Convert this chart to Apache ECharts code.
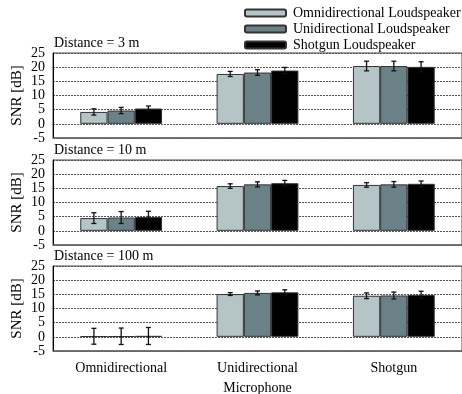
<!DOCTYPE html>
<html><head><meta charset="utf-8">
<script src="https://cdn.jsdelivr.net/npm/echarts@6/dist/echarts.min.js"></script>
<style>html,body{margin:0;padding:0;background:#fff}#c{width:462px;height:394px}</style>
</head><body><div id="c"></div>
<script>
const categories = ['Omnidirectional', 'Unidirectional', 'Shotgun'];
const seriesNames = ['Omnidirectional Loudspeaker', 'Unidirectional Loudspeaker', 'Shotgun Loudspeaker'];
const panelTitles = ['Distance = 3 m', 'Distance = 10 m', 'Distance = 100 m'];
const yTicks = [-5, 0, 5, 10, 15, 20, 25];
// values[panel][loudspeaker][microphone]
const snr3m = [[4.2, 17.6, 20.4], [4.7, 18.1, 20.4], [5.4, 18.8, 20.1]];
const err3m = [[1.1, 0.9, 1.7], [1.1, 1.0, 1.7], [0.9, 1.1, 1.8]];
const snr10m = [[4.5, 15.8, 16.2], [4.7, 16.4, 16.4], [4.9, 16.8, 16.6]];
const err10m = [[1.9, 0.8, 0.8], [2.1, 0.9, 1.0], [2.0, 1.0, 1.0]];
const snr100m = [[0.2, 15.1, 14.5], [0.2, 15.5, 14.6], [0.3, 15.7, 14.8]];
const err100m = [[2.8, 0.5, 1.0], [2.9, 0.7, 1.2], [3.0, 0.9, 1.3]];

const panels = [[snr3m, err3m], [snr10m, err10m], [snr100m, err100m]];
const colors = ['#b5c4c6', '#6a8187', '#000000'];
const FONT = 'Liberation Serif';
const gridTops = [53, 160, 266];
const gridH = 85;
const catGap = 0.4;

const grids = [], xAxes = [], yAxes = [], series = [], titles = [];
panels.forEach((p, pi) => {
  grids.push({left: 53, width: 409, top: gridTops[pi], height: gridH, show: true, borderColor: '#444', borderWidth: 1,
    containLabel: false, outerBoundsMode: 'none'});
  titles.push({text: panelTitles[pi], left: 54, top: gridTops[pi] - 17, padding: 0,
    textStyle: {fontFamily: FONT, fontSize: 14, fontWeight: 'normal', color: '#000'}});
  xAxes.push({type: 'category', gridIndex: pi, data: categories,
    axisLine: {show: true, onZero: false, lineStyle: {color: '#666', width: 1.5}},
    axisTick: {show: false},
    axisLabel: {show: pi === 2, fontFamily: FONT, fontSize: 14, color: '#000', margin: 10},
    name: pi === 2 ? 'Microphone' : '', nameLocation: 'middle', nameGap: 30, nameMoveOverlap: false,
    nameTextStyle: {fontFamily: FONT, fontSize: 14, color: '#000'}});
  yAxes.push({type: 'value', gridIndex: pi, min: yTicks[0], max: yTicks[yTicks.length - 1], interval: 5,
    axisLine: {show: true, lineStyle: {color: '#000', width: 1}},
    axisTick: {show: false},
    axisLabel: {fontFamily: FONT, fontSize: 14, color: '#000', margin: 8,
      showMinLabel: true, showMaxLabel: true, hideOverlap: false},
    splitLine: {show: true, lineStyle: {color: '#555', type: [2, 1], width: 1}},
    name: 'SNR [dB]', nameLocation: 'middle', nameGap: 28, nameMoveOverlap: false,
    nameTextStyle: {fontFamily: FONT, fontSize: 15, color: '#000'}});
  const vals = p[0], errs = p[1];
  vals.forEach((row, si) => {
    series.push({type: 'bar', name: seriesNames[si], xAxisIndex: pi, yAxisIndex: pi,
      data: row, barGap: '0%', barCategoryGap: (catGap * 100) + '%',
      itemStyle: {color: colors[si], borderColor: '#333', borderWidth: 1}, z: 2});
  });
  vals.forEach((row, si) => {
    const d = row.map((v, ci) => [ci, v - errs[si][ci], v + errs[si][ci]]);
    series.push({type: 'custom', xAxisIndex: pi, yAxisIndex: pi, data: d, z: 5,
      encode: {x: 0, y: [1, 2]},
      renderItem: function (params, api) {
        const c = api.value(0);
        const lo = api.coord([c, api.value(1)]);
        const hi = api.coord([c, api.value(2)]);
        const band = api.size([1, 0])[0];
        const bw = band * (1 - catGap) / 3;
        const x = lo[0] + (si - 1) * bw;
        const cw = 2.5;
        const st = {stroke: '#111', lineWidth: 1.3};
        return {type: 'group', children: [
          {type: 'line', shape: {x1: x, y1: lo[1], x2: x, y2: hi[1]}, style: st},
          {type: 'line', shape: {x1: x - cw, y1: lo[1], x2: x + cw, y2: lo[1]}, style: st},
          {type: 'line', shape: {x1: x - cw, y1: hi[1], x2: x + cw, y2: hi[1]}, style: st}
        ]};
      }});
  });
});

const chart = echarts.init(document.getElementById('c'), null, {renderer: 'canvas'});
chart.setOption({
  animation: false,
  backgroundColor: '#fff',
  title: titles,
  legend: {data: seriesNames, orient: 'vertical', left: 244, top: 6, itemWidth: 41, itemHeight: 7, itemGap: 2,
    padding: 0, selectedMode: false,
    textStyle: {fontFamily: FONT, fontSize: 14, color: '#000', padding: [0, 0, 0, 2]}},
  grid: grids, xAxis: xAxes, yAxis: yAxes, series: series
});
</script></body></html>
